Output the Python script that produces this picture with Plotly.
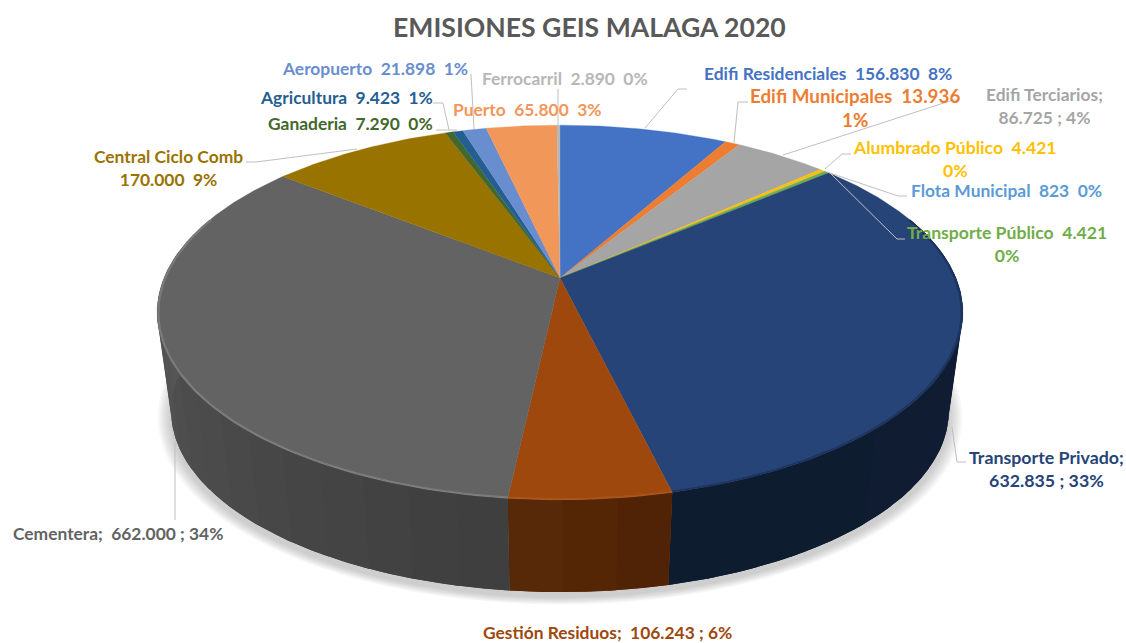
import math
import plotly.graph_objects as go

# --- data ---
sectors = ["Edifi Residenciales", "Edifi Municipales", "Edifi Terciarios", "Alumbrado Público",
           "Flota Municipal", "Transporte Público", "Transporte Privado", "Gestión Residuos",
           "Cementera", "Central Ciclo Comb", "Ganaderia", "Agricultura", "Aeropuerto", "Puerto",
           "Ferrocarril"]
emissions = [156830, 13936, 86725, 4421, 823, 4421, 632835, 106243, 662000, 170000, 7290, 9423,
             21898, 65800, 2890]
label_texts = ["Edifi Residenciales  156.830  8%", "Edifi Municipales  13.936<br>1%",
               "Edifi Terciarios;<br>86.725 ; 4%", "Alumbrado Público  4.421<br>0%",
               "Flota Municipal  823  0%", "Transporte Público  4.421<br>0%",
               "Transporte Privado;<br>632.835 ; 33%", "Gestión Residuos;  106.243 ; 6%",
               "Cementera;  662.000 ; 34%", "Central Ciclo Comb<br>170.000  9%",
               "Ganaderia  7.290  0%", "Agricultura  9.423  1%", "Aeropuerto  21.898  1%",
               "Puerto  65.800  3%", "Ferrocarril  2.890  0%"]

# --- styles / layout ---
top_colors = ["#4472C4", "#ED7D31", "#A5A5A5", "#FFC000", "#5B9BD5", "#70AD47", "#264478", "#9E480E",
              "#636363", "#997300", "#43682B", "#255E91", "#698ED0", "#F1975A", "#B7B7B7"]
label_colors = list(top_colors)
label_sizes = [17.4, 18.8, 17.4, 17.6, 17.4, 17.6, 17.8, 17.4, 17.4, 17.4, 17.4, 17.4, 17.4, 17.4, 17.4]
label_xy = [(828, 73), (855, 107), (1044, 106), (955, 159), (1006, 190), (1007, 244), (1046, 468),
            (607, 632), (118, 533), (168, 168), (350, 123), (346, 97), (375, 68), (527, 109), (565, 78)]
leaders = [[(645, 128), (678, 89), (687, 89)], [(734, 143), (738, 102), (748, 102)],
           [(783, 155), (953, 100), (959, 100)], [(825, 169), (842, 154), (851, 154)],
           [(827, 172), (898, 196), (907, 196)], [(830, 173), (897, 239), (905, 239)],
           [(952, 427), (957, 462), (966, 462)], [(175, 442), (175, 520)],
           [(357, 149), (256, 162), (246, 162)], [(457, 130), (436, 130)],
           [(449, 130), (443, 103), (433, 103)], [(474, 129), (471, 74)], [(558, 125), (558, 89)]]

CX, YC_TOP, YC_BOT = 560, 278, 378
K, A, B = 0.184, 181, 396
WALL_SCALE = 0.965
wall_shades = {6: ("#121C36", "#0D1C2E"), 7: ("#4F2205", "#5A2A08"), 8: ("#3C3C3C", "#585858")}
rim_colors = {6: "rgba(8,16,36,0.30)", 7: "rgba(190,105,45,0.35)", 8: "rgba(150,150,150,0.45)"}


def project(deg, yc=YC_TOP, scale=1.0):
    t = math.radians(deg)
    s = 1 / (1 + K * math.cos(t))
    return CX + B * scale * math.sin(t) * s, yc - A * scale * math.cos(t) * s


def arc(a0, a1, yc=YC_TOP, scale=1.0, step=1.0):
    n = max(2, int(abs(a1 - a0) / step) + 1)
    return [project(a0 + (a1 - a0) * i / (n - 1), yc, scale) for i in range(n)]


def mix(c0, c1, f):
    a = [int(c0[i:i + 2], 16) for i in (1, 3, 5)]
    b = [int(c1[i:i + 2], 16) for i in (1, 3, 5)]
    return "rgb(%d,%d,%d)" % tuple(round(p + (q - p) * f) for p, q in zip(a, b))


def poly(points, fill, line=None, width=0.0):
    return go.Scatter(x=[p[0] for p in points], y=[p[1] for p in points], mode="lines",
                      fill="toself", fillcolor=fill,
                      line=dict(color=line or fill, width=width), hoverinfo="skip", showlegend=False)


fig = go.Figure()
total = sum(emissions)
edges = [0.0]
for v in emissions:
    edges.append(edges[-1] + v / total * 360)

# soft shadow under the disc
for i in range(8):
    grow = 1.035 - i * 0.0045
    fig.add_trace(poly(arc(0, 360, YC_BOT + 5, WALL_SCALE * grow, 3), "rgba(120,120,120,0.05)"))

# side wall, back to front
for idx, (c0, c1) in wall_shades.items():
    a0, a1 = max(edges[idx], 70), min(edges[idx + 1], 290)
    strips = max(2, int((a1 - a0) / 6))
    base = arc(a0, a1) + arc(a1, a0, YC_BOT, WALL_SCALE)
    fig.add_trace(poly(base, mix(c0, c1, 0.5)))
    for j in range(strips):
        s0 = a0 + (a1 - a0) * j / strips
        s1 = a0 + (a1 - a0) * (j + 1) / strips
        mid = (s0 + s1) / 2
        f = abs(mid - 180) / 100 if idx == 8 else (mid - a0) / (a1 - a0)
        col = mix(c0, c1, min(f, 1))
        # each strip overlaps the next one slightly so no seam shows
        s2 = min(s1 + 1.0, a1)
        pts = arc(s0, s2) + arc(s2, s0, YC_BOT, WALL_SCALE)
        fig.add_trace(poly(pts, col))

# top face
for i, col in enumerate(top_colors):
    pts = [(CX, YC_TOP)] + arc(edges[i], edges[i + 1], step=0.5) + [(CX, YC_TOP)]
    fig.add_trace(poly(pts, col, col, 0.3))

# rim highlight along the front edge
for idx, col in rim_colors.items():
    a0, a1 = max(edges[idx], 70), min(edges[idx + 1], 290)
    pts = arc(a0, a1, YC_TOP, 0.997)
    fig.add_trace(go.Scatter(x=[p[0] for p in pts], y=[p[1] for p in pts], mode="lines",
                             line=dict(color=col, width=2.2), hoverinfo="skip", showlegend=False))

# leader lines
shapes = []
for pts in leaders:
    path = "M " + " L ".join(f"{x} {y}" for x, y in pts)
    shapes.append(dict(type="path", path=path, xref="x", yref="y",
                       line=dict(color="#BFBFBF", width=1)))

annotations = [dict(x=x, y=y, xref="x", yref="y", text=t.replace("  ", "\u00a0\u00a0"),
                    showarrow=False, align="center", xanchor="center", yanchor="middle",
                    font=dict(family="Lato", size=s, color=c, weight="bold"))
               for (x, y), t, c, s in zip(label_xy, label_texts, label_colors, label_sizes)]
annotations.append(dict(x=589, y=27, xref="x", yref="y", text="EMISIONES GEIS MALAGA 2020",
                        showarrow=False, xanchor="center", yanchor="middle",
                        font=dict(family="Lato", size=26.6, color="#595959", weight="bold")))

fig.update_layout(width=1126, height=643, margin=dict(l=0, r=0, t=0, b=0),
                  paper_bgcolor="white", plot_bgcolor="white", showlegend=False,
                  xaxis=dict(range=[0, 1126], visible=False, fixedrange=True),
                  yaxis=dict(range=[643, 0], visible=False, fixedrange=True),
                  shapes=shapes, annotations=annotations)
fig.write_html("out.html", config=dict(displayModeBar=False),
               post_script="document.body.style.margin='0';document.body.style.overflow='hidden';")
